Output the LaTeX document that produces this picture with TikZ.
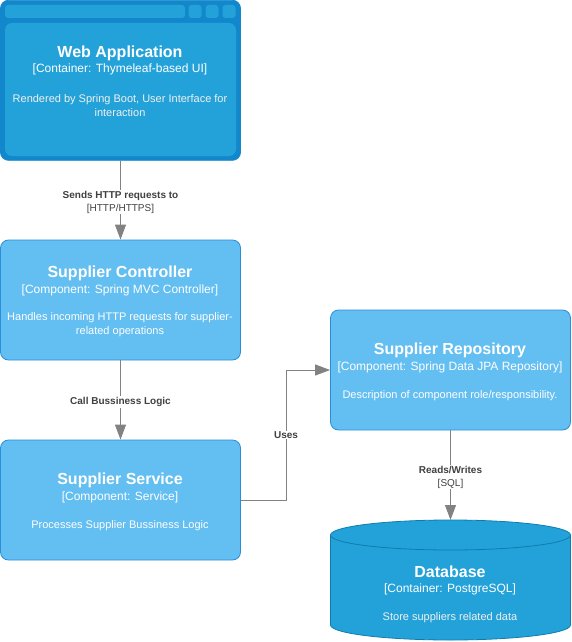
\documentclass[tikz,border=0pt]{standalone}
\usepackage{fontspec}
\setmainfont{Liberation Sans}
\usetikzlibrary{arrows.meta,calc}
\definecolor{contfill}{HTML}{23A2D9}
\definecolor{contdark}{HTML}{1387CB}
\definecolor{contstroke}{HTML}{0E7DAD}
\definecolor{compfill}{HTML}{63BEF2}
\definecolor{compstroke}{HTML}{2A8FD8}
\definecolor{edgecol}{HTML}{828282}
\definecolor{labcol}{HTML}{404040}
\definecolor{desccol}{HTML}{FFFFFF}
\definecolor{desccont}{HTML}{F0F0F0}
\tikzset{
  x=1pt,y=-1pt,
  compbox/.style={draw=compstroke,fill=compfill,rounded corners=8pt,line width=0.8pt},
  ttl/.style={text=white,font=\fontsize{16}{18}\selectfont\bfseries,inner sep=0pt,anchor=center},
  sub/.style={text=white,font=\fontsize{12}{14}\selectfont,inner sep=0pt,anchor=center},
  desc/.style={text=desccol,font=\fontsize{11}{14}\selectfont,align=center,inner sep=0pt,anchor=center},
  rel/.style={draw=edgecol,line width=1pt,-{Triangle[length=15pt,width=11pt]}},
  lab/.style={fill=white,text=labcol,font=\fontsize{10}{13}\selectfont,align=center,inner sep=1pt,yshift=-2pt},
}
\begin{document}
\begin{tikzpicture}
\useasboundingbox (0,0) rectangle (572,642);
% Web application
\node[draw=contdark,fill=contdark,rounded corners=8pt,minimum width=240pt,minimum height=160pt,inner sep=0pt,line width=0.8pt] (web) at (120.5,80.3) {};
\node[fill=contfill,rounded corners=3pt,minimum width=180pt,minimum height=13pt,inner sep=0pt] (bar) at (95,11.5) {};
\node[fill=contfill,rounded corners=3pt,minimum width=13pt,minimum height=13pt,inner sep=0pt] (sq1) at (195,11.5) {};
\node[fill=contfill,rounded corners=3pt,minimum width=13pt,minimum height=13pt,inner sep=0pt] (sq2) at (212,11.5) {};
\node[fill=contfill,rounded corners=3pt,minimum width=13pt,minimum height=13pt,inner sep=0pt] (sq3) at (229,11.5) {};
\node[fill=contfill,rounded corners=7pt,minimum width=231pt,minimum height=133pt,inner sep=0pt] (webin) at (120.5,89.5) {};
\node[ttl] (webt) at (120,53) {Web Application};
\node[sub] (webs) at (120,69) {[Container: Thymeleaf-based UI]};
\node[desc,text=desccont] (webd) at (120,105.5) {Rendered by Spring Boot, User Interface for\\interaction};
% Supplier Controller
\node[compbox,minimum width=240pt,minimum height=120pt,inner sep=0pt] (ctrl) at (120.5,300) {};
\node[ttl] (ctrlt) at (120,273) {Supplier Controller};
\node[sub] (ctrls) at (120,290) {[Component: Spring MVC Controller]};
\node[desc] (ctrld) at (120,325) {Handles incoming HTTP requests for supplier-\\related operations};
% Supplier Service
\node[compbox,minimum width=240pt,minimum height=120pt,inner sep=0pt] (svc) at (120.5,500) {};
\node[ttl] (svct) at (120,480) {Supplier Service};
\node[sub] (svcs) at (120,497) {[Component: Service]};
\node[desc] (svcd) at (120,525.5) {Processes Supplier Bussiness Logic};
% Supplier Repository
\node[compbox,minimum width=240pt,minimum height=120pt,inner sep=0pt] (repo) at (450.5,370) {};
\node[ttl] (repot) at (450,350) {Supplier Repository};
\node[sub] (repos) at (450,367) {[Component: Spring Data JPA Repository]};
\node[desc] (repod) at (450,395.5) {Description of component role/responsibility.};
% Database cylinder
\coordinate (dbtop) at (450.5,520);
\fill[contfill] (330.5,535) arc[start angle=180,end angle=360,x radius=120,y radius=15]
  -- (570.5,625) arc[start angle=0,end angle=180,x radius=120,y radius=15] -- cycle;
\draw[contstroke,line width=0.8pt] (330.5,535) -- (330.5,625) arc[start angle=180,end angle=0,x radius=120,y radius=15] -- (570.5,535);
\draw[contstroke,line width=0.8pt] (450.5,535) ellipse[x radius=120,y radius=15];
\node[ttl] (dbt) at (450,571.5) {Database};
\node[sub] (dbs) at (450,589) {[Container: PostgreSQL]};
\node[desc,text=desccont] (dbd) at (450,617.5) {Store suppliers related data};
% Relationships
\draw[rel] (web.south) -- node[lab,pos=0.5] (l1) {\textbf{Sends HTTP requests to}\\{}[HTTP/HTTPS]} (ctrl.north);
\draw[rel] (ctrl.south) -- node[lab,pos=0.5] (l2) {\textbf{Call Bussiness Logic}} (svc.north);
\coordinate (elb1) at (286,500);
\coordinate (elb2) at (286,370);
\draw[rel] (svc.east) -- (elb1) -- node[lab,pos=0.5,yshift=2pt] (l3) {\textbf{Uses}} (elb2) -- (repo.west);
\draw[rel] (repo.south) -- node[lab,pos=0.5] (l4) {\textbf{Reads/Writes}\\{}[SQL]} (dbtop);
\end{tikzpicture}
\end{document}
